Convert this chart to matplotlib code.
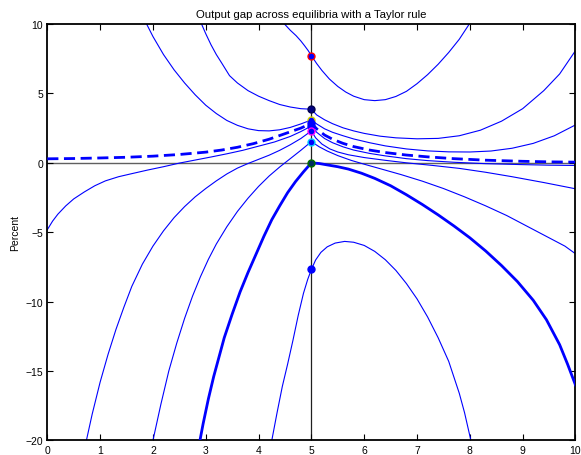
import matplotlib
matplotlib.use("Agg")
import matplotlib.pyplot as plt

# ---------------- data ----------------
title = "Output gap across equilibria with a Taylor rule"
ylabel = "Percent"
xticks = [0, 1, 2, 3, 4, 5, 6, 7, 8, 9, 10]
yticks = [-20, -15, -10, -5, 0, 5, 10]

# points at the shock date
pt_x = [5, 5, 5, 5, 5, 5, 5, 5]
pt_y = [7.72, 3.86, 3.09, 2.85, 2.65, 2.30, 1.53, 0.0]
pt_edge = ["#ff0000", "#000050", "#d4d400", "#0000ff", "#0000ff", "#ff00ff", "#00d0ff", "#007000"]
pt_face = ["#0000ff", "#000080", "#0000ff", "#0000ff", "#0000ff", "#0000ff", "#0000ff", "#003060"]
low_pt_x = [5]
low_pt_y = [-7.68]

# thin curves, left of the shock date
l1_x = [4.49, 4.60, 4.71, 4.80, 4.87, 4.94, 5.0]
l1_y = [10.0, 9.55, 9.16, 8.78, 8.44, 8.08, 7.72]
l2_x = [2.92, 3.0, 3.1, 3.2, 3.3, 3.45, 3.6, 3.8, 4.0, 4.2, 4.4, 4.6, 4.8, 5.0]
l2_y = [10.0, 9.3, 8.5, 7.8, 7.2, 6.28, 5.75, 5.2, 4.8, 4.48, 4.2, 4.02, 3.9, 3.86]
l3_x = [1.88, 2.0, 2.2, 2.4, 2.6, 2.8, 3.0, 3.2, 3.4, 3.6, 3.8, 4.0, 4.2, 4.4, 4.6, 4.8, 5.0]
l3_y = [10.0, 9.1, 7.8, 6.7, 5.75, 4.9, 4.15, 3.55, 3.05, 2.7, 2.45, 2.32, 2.3, 2.38, 2.55, 2.8, 3.09]
l5_x = [0.0, 0.1, 0.2, 0.35, 0.5, 0.7, 0.9, 1.1, 1.35, 1.6, 1.9, 2.2, 2.5, 2.8, 3.1,
        3.4, 3.7, 4.0, 4.3, 4.6, 4.8, 5.0]
l5_y = [-4.82, -4.2, -3.7, -3.1, -2.6, -2.1, -1.65, -1.3, -1.0, -0.78, -0.52, -0.28, -0.02,
        0.2, 0.42, 0.65, 0.9, 1.2, 1.5, 1.9, 2.25, 2.65]
l6_x = [0.74, 0.85, 1.0, 1.15, 1.3, 1.45, 1.6, 1.8, 2.0, 2.2, 2.4, 2.6, 2.8, 3.0, 3.2,
        3.4, 3.6, 3.8, 4.0, 4.2, 4.4, 4.6, 4.8, 5.0]
l6_y = [-20.0, -18.1, -15.8, -13.8, -12.0, -10.4, -8.9, -7.3, -6.0, -4.9, -3.95, -3.15,
        -2.45, -1.85, -1.3, -0.8, -0.38, -0.05, 0.25, 0.55, 0.9, 1.3, 1.75, 2.3]
l7_x = [2.0, 2.15, 2.3, 2.45, 2.6, 2.75, 2.9, 3.05, 3.2, 3.4, 3.6, 3.8, 4.0, 4.2, 4.4,
        4.6, 4.8, 5.0]
l7_y = [-20.0, -17.4, -15.0, -13.0, -11.2, -9.6, -8.2, -6.95, -5.85, -4.6, -3.5, -2.55,
        -1.7, -0.95, -0.3, 0.3, 0.9, 1.53]
l9_x = [4.25, 4.3, 4.35, 4.45, 4.55, 4.65, 4.75, 4.85, 4.93, 5.0]
l9_y = [-20.0, -19.0, -18.0, -16.1, -14.5, -12.8, -11.0, -9.4, -8.4, -7.68]

# thin curves, right of the shock date
r1_x = [5.0, 5.1, 5.2, 5.34, 5.5, 5.65, 5.8, 6.0, 6.2, 6.4, 6.6, 6.8, 7.0, 7.2, 7.4,
        7.6, 7.8, 7.99]
r1_y = [7.72, 7.15, 6.65, 6.04, 5.5, 5.1, 4.8, 4.55, 4.48, 4.55, 4.78, 5.15, 5.7, 6.35,
        7.1, 7.95, 8.9, 10.0]
r2_x = [5.0, 5.1, 5.25, 5.4, 5.6, 5.8, 6.0, 6.3, 6.6, 7.0, 7.4, 7.8, 8.2, 8.6, 9.0,
        9.4, 9.7, 10.0]
r2_y = [3.86, 3.45, 3.1, 2.82, 2.52, 2.3, 2.12, 1.92, 1.8, 1.73, 1.76, 1.95, 2.35, 3.0,
        3.9, 5.2, 6.4, 8.08]
r3_x = [5.0, 5.1, 5.25, 5.4, 5.6, 5.8, 6.1, 6.4, 6.8, 7.2, 7.6, 8.0, 8.4, 8.8, 9.2,
        9.6, 10.0]
r3_y = [3.09, 2.8, 2.45, 2.2, 1.95, 1.72, 1.45, 1.22, 1.0, 0.86, 0.79, 0.78, 0.85, 1.05,
        1.4, 1.95, 2.73]
r5_x = [5.0, 5.1, 5.25, 5.4, 5.6, 5.8, 6.1, 6.4, 6.8, 7.2, 7.7, 8.3, 9.0, 9.5, 10.0]
r5_y = [2.65, 2.2, 1.75, 1.45, 1.15, 0.92, 0.68, 0.5, 0.3, 0.16, 0.04, -0.06, -0.13,
        -0.17, -0.19]
r6_x = [5.0, 5.08, 5.2, 5.35, 5.5, 5.7, 6.0, 6.4, 6.8, 7.3, 7.8, 8.3, 8.8, 9.4, 10.0]
r6_y = [2.3, 1.8, 1.35, 1.0, 0.78, 0.58, 0.38, 0.18, 0.0, -0.19, -0.4, -0.68, -1.0,
        -1.42, -1.87]
r7_x = [5.0, 5.15, 5.3, 5.5, 5.75, 6.0, 6.3, 6.7, 7.1, 7.5, 7.9, 8.3, 8.7, 9.1, 9.5,
        9.8, 10.0]
r7_y = [1.53, 1.15, 0.85, 0.52, 0.18, -0.1, -0.42, -0.85, -1.32, -1.85, -2.45, -3.1,
        -3.8, -4.6, -5.4, -6.0, -6.55]
r9_x = [5.0, 5.08, 5.18, 5.3, 5.45, 5.63, 5.8, 6.0, 6.2, 6.4, 6.6, 6.8, 7.0, 7.2, 7.4,
        7.6, 7.8, 7.9, 8.02]
r9_y = [-7.68, -7.0, -6.45, -6.05, -5.78, -5.66, -5.72, -5.95, -6.38, -6.98, -7.75,
        -8.7, -9.8, -11.1, -12.6, -14.3, -16.6, -18.0, -20.0]

# dashed equilibrium
dash_x = [0.0, 0.5, 1.0, 1.5, 2.0, 2.5, 3.0, 3.3, 3.6, 3.9, 4.2, 4.5, 4.8, 5.0,
          5.1, 5.25, 5.4, 5.6, 5.8, 6.1, 6.4, 6.8, 7.2, 7.7, 8.3, 9.0, 9.5, 10.0]
dash_y = [0.29, 0.31, 0.35, 0.40, 0.48, 0.6, 0.77, 0.92, 1.12, 1.38, 1.7, 2.1, 2.5, 2.85,
          2.45, 2.0, 1.7, 1.4, 1.17, 0.92, 0.74, 0.56, 0.43, 0.3, 0.19, 0.11, 0.07, 0.05]

# thick equilibrium
thick_x = [2.89, 2.95, 3.05, 3.15, 3.25, 3.35, 3.5, 3.65, 3.8, 3.95, 4.1, 4.25, 4.4,
           4.55, 4.7, 4.85, 5.0,
           5.15, 5.3, 5.5, 5.7, 5.95, 6.2, 6.5, 6.8, 7.1, 7.4, 7.7, 8.0, 8.3, 8.6,
           8.9, 9.2, 9.45, 9.7, 9.85, 10.0]
thick_y = [-20.0, -18.8, -17.0, -15.4, -14.0, -12.6, -10.9, -9.3, -7.9, -6.6, -5.3,
           -4.1, -3.1, -2.15, -1.35, -0.65, 0.0,
           -0.05, -0.15, -0.28, -0.45, -0.75, -1.12, -1.65, -2.3, -3.0, -3.75, -4.55,
           -5.4, -6.35, -7.4, -8.55, -9.9, -11.3, -13.1, -14.5, -16.0]

thin_curves = [(l1_x, l1_y), (l2_x, l2_y), (l3_x, l3_y), (l5_x, l5_y), (l6_x, l6_y),
               (l7_x, l7_y), (l9_x, l9_y), (r1_x, r1_y), (r2_x, r2_y), (r3_x, r3_y),
               (r5_x, r5_y), (r6_x, r6_y), (r7_x, r7_y), (r9_x, r9_y)]

# ---------------- drawing ----------------
plt.rcParams['font.family'] = ['Liberation Sans', 'DejaVu Sans']
fig = plt.figure(figsize=(5.81, 4.56), dpi=100)
ax = fig.add_axes([0.0814, 0.0318, 0.9091, 0.9134])

ax.axhline(0, color="#606060", lw=1.0, zorder=1)
ax.axvline(5, color="#202020", lw=0.9, zorder=1)

for cx, cy in thin_curves:
    ax.plot(cx, cy, color="#0000ff", lw=0.8, zorder=2)
ax.plot(dash_x, dash_y, color="#0000ff", lw=2.0, ls=(0, (4, 2)), zorder=3)
ax.plot(thick_x, thick_y, color="#0000ff", lw=2.0, zorder=3)

for px_, py_, ec, fc in zip(pt_x, pt_y, pt_edge, pt_face):
    ax.plot([px_], [py_], marker="o", ms=5, mfc=fc, mec=ec, mew=1.0, ls="none", zorder=4)
ax.plot(low_pt_x, low_pt_y, marker="o", ms=5, mfc="#0000ff", mec="#0000ff", ls="none", zorder=4)

ax.set_xlim(0, 10)
ax.set_ylim(-20, 10)
ax.set_xticks(xticks)
ax.set_yticks(yticks)
ax.tick_params(direction="in", top=True, right=True, length=4, width=0.8,
               labelsize=7.5, pad=3)
for s in ax.spines.values():
    s.set_linewidth(1.3)
ax.set_title(title, fontsize=8.2, pad=5)
ax.set_ylabel(ylabel, fontsize=7.5, labelpad=4)

fig.savefig("out.png", dpi=100)
